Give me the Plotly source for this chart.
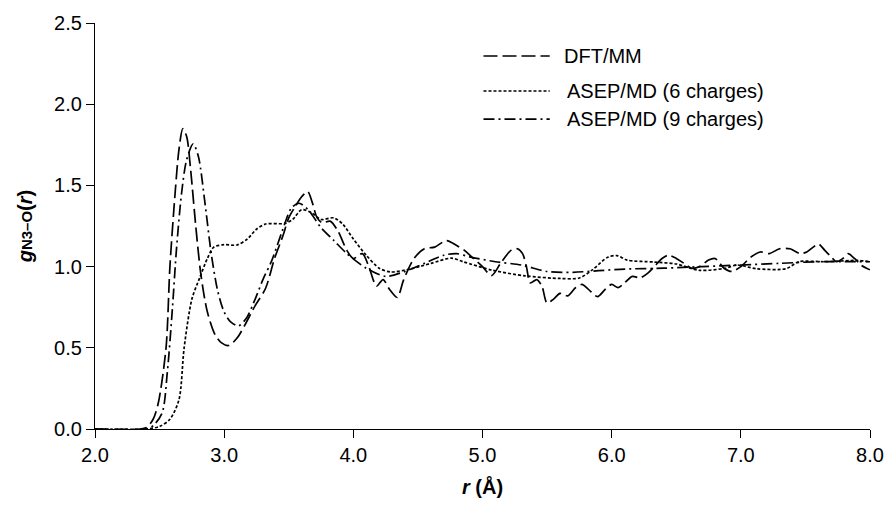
import plotly.graph_objects as go

# ---------------- data ----------------
r_dft = [2.00, 2.35, 2.40, 2.45, 2.49, 2.55, 2.58, 2.62, 2.65, 2.68, 2.71, 2.74, 2.78, 2.82, 2.87,
         2.93, 2.98, 3.035, 3.10, 3.16, 3.24, 3.32, 3.39, 3.455, 3.50, 3.55, 3.60, 3.647, 3.68, 3.72,
         3.76, 3.82, 3.88, 3.95, 4.00, 4.07, 4.12, 4.18, 4.23, 4.28, 4.34, 4.39, 4.47, 4.55, 4.63,
         4.72, 4.80, 4.86, 4.93, 5.00, 5.07, 5.14, 5.22, 5.27, 5.31, 5.34, 5.37, 5.42, 5.46, 5.50,
         5.55, 5.60, 5.66, 5.72, 5.77, 5.82, 5.89, 5.95, 6.00, 6.05, 6.10, 6.16, 6.22, 6.28, 6.33,
         6.39, 6.44, 6.50, 6.56, 6.62, 6.68, 6.75, 6.80, 6.87, 6.93, 7.00, 7.08, 7.15, 7.22, 7.30,
         7.38, 7.46, 7.51, 7.56, 7.60, 7.65, 7.70, 7.74, 7.79, 7.83, 7.88, 7.93, 8.00]
g_dft = [0.00, 0.00, 0.01, 0.06, 0.16, 0.50, 1.00, 1.45, 1.72, 1.85, 1.80, 1.60, 1.25, 0.95, 0.72,
         0.58, 0.53, 0.514, 0.56, 0.64, 0.76, 0.865, 1.05, 1.19, 1.30, 1.37, 1.43, 1.462, 1.40, 1.30,
         1.27, 1.28, 1.22, 1.10, 1.05, 1.08, 1.00, 0.88, 0.92, 0.86, 0.81, 0.92, 1.05, 1.11, 1.12,
         1.16, 1.13, 1.10, 1.05, 1.00, 0.945, 1.02, 1.10, 1.11, 1.08, 1.00, 0.90, 0.92, 0.88, 0.775,
         0.80, 0.835, 0.82, 0.87, 0.89, 0.86, 0.815, 0.86, 0.89, 0.87, 0.90, 0.94, 0.93, 0.96, 1.00,
         1.05, 1.07, 1.05, 1.02, 0.99, 1.00, 1.04, 1.05, 0.99, 0.97, 1.00, 1.06, 1.09, 1.08, 1.11,
         1.11, 1.08, 1.09, 1.12, 1.14, 1.10, 1.06, 1.03, 1.05, 1.08, 1.05, 1.01, 0.98]

r_asep6 = [2.00, 2.40, 2.50, 2.58, 2.65, 2.69, 2.75, 2.81, 2.87, 2.92, 3.00, 3.10, 3.18, 3.25,
           3.32, 3.47, 3.53, 3.60, 3.68, 3.75, 3.85, 3.92, 4.00, 4.10, 4.20, 4.29, 4.45, 4.60,
           4.76, 4.85, 5.08, 5.33, 5.60, 5.75, 5.85, 5.97, 6.04, 6.12, 6.33, 6.50, 6.68, 6.88,
           6.97, 7.12, 7.35, 7.45, 7.65, 7.90, 8.00]
g_asep6 = [0.00, 0.00, 0.016, 0.06, 0.18, 0.50, 0.80, 0.93, 1.05, 1.12, 1.135, 1.133, 1.17, 1.23,
           1.262, 1.266, 1.29, 1.35, 1.33, 1.29, 1.30, 1.26, 1.17, 1.07, 0.99, 0.967, 0.987, 1.02,
           1.052, 1.03, 0.977, 0.943, 0.927, 0.93, 0.98, 1.058, 1.068, 1.04, 1.028, 1.016, 0.977, 0.99,
           1.01, 0.987, 0.987, 1.03, 1.03, 1.038, 1.03]

r_asep9 = [2.00, 2.40, 2.45, 2.52, 2.56, 2.60, 2.63, 2.67, 2.71, 2.76, 2.80, 2.85, 2.90, 2.95,
           3.00, 3.05, 3.11, 3.17, 3.24, 3.30, 3.37, 3.45, 3.52, 3.58, 3.65, 3.75, 3.85, 3.95,
           4.10, 4.25, 4.40, 4.55, 4.70, 4.80, 4.90, 5.10, 5.30, 5.50, 5.70, 5.90, 6.10, 6.40,
           6.70, 7.00, 7.30, 7.60, 8.00]
g_asep9 = [0.00, 0.00, 0.02, 0.10, 0.35, 0.75, 1.10, 1.45, 1.66, 1.756, 1.68, 1.40, 1.08, 0.85,
           0.72, 0.66, 0.635, 0.68, 0.80, 0.92, 1.04, 1.22, 1.36, 1.39, 1.35, 1.24, 1.16, 1.08,
           0.99, 0.94, 0.97, 1.02, 1.07, 1.08, 1.06, 1.03, 1.01, 0.97, 0.965, 0.975, 0.985, 0.99,
           1.00, 1.01, 1.02, 1.03, 1.03]

series_names = ["DFT/MM", "ASEP/MD (6 charges)", "ASEP/MD (9 charges)"]
x_ticks = [2, 3, 4, 5, 6, 7, 8]
y_ticks = [0.0, 0.5, 1.0, 1.5, 2.0, 2.5]

# ---------------- styles ----------------
FONT = "Liberation Sans, Arial, sans-serif"
FS = 20
dashes = ["14px,5px", "3px,2px", "11px,4px,2px,4px"]
W, H = 896, 506
ML, MR, MT, MB = 95, 17, 21, 73

fig = go.Figure()
for rr, gg, dsh, nm in zip([r_dft, r_asep6, r_asep9], [g_dft, g_asep6, g_asep9], dashes, series_names):
    fig.add_trace(go.Scatter(x=rr, y=gg, mode="lines", name=nm, showlegend=False,
                             line=dict(color="black", width=1.7, dash=dsh, shape="spline", smoothing=0.8)))

# custom legend (long line samples like the reference)
pw, ph = W - ML - MR, H - MT - MB
def px2x(p): return (p - ML) / pw
def py2y(p): return (H - MB - p) / ph
leg_rows = [54.5, 90, 118.5]
leg_text_x = [567, 570, 570]
for nm, dsh, yy, tx in zip(series_names, dashes, leg_rows, leg_text_x):
    fig.add_shape(type="line", xref="paper", yref="paper", x0=px2x(488), x1=px2x(555),
                  y0=py2y(yy), y1=py2y(yy), line=dict(color="black", width=1.7, dash=dsh))
    fig.add_annotation(xref="paper", yref="paper", x=px2x(tx), y=py2y(yy), text=nm, showarrow=False,
                       xanchor="left", yanchor="middle", font=dict(family=FONT, size=FS, color="black"))

axis_common = dict(showline=True, linecolor="black", linewidth=1.3, ticks="outside", ticklen=8,
                   tickcolor="black", tickwidth=1.3, showgrid=False, zeroline=False,
                   tickfont=dict(family=FONT, size=FS, color="black"))
fig.update_xaxes(range=[2, 8], tickvals=x_ticks, tickformat=".1f",
                 title=dict(text="<b><i>r</i> (Å)</b>", font=dict(family=FONT, size=FS, color="black"),
                            standoff=14), **axis_common)
fig.update_yaxes(range=[0, 2.5], tickvals=y_ticks, tickformat=".1f",
                 title=dict(text="<b><i>g</i><span style='font-size:15px'>N3–O</span>(<i>r</i>)</b>",
                            font=dict(family=FONT, size=FS, color="black"), standoff=16), **axis_common)

fig.update_layout(width=W, height=H, margin=dict(l=ML, r=MR, t=MT, b=MB),
                  plot_bgcolor="white", paper_bgcolor="white", showlegend=False)
fig.write_html("out.html")
